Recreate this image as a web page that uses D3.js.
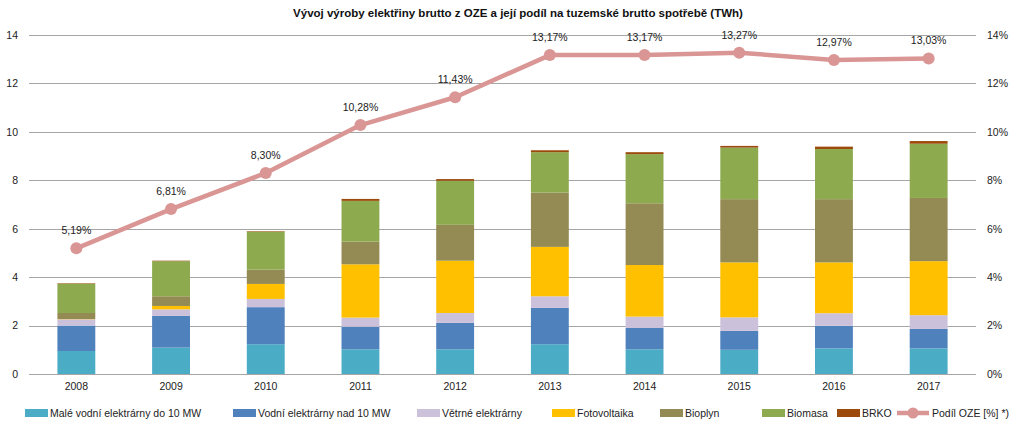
<!DOCTYPE html>
<html><head><meta charset="utf-8">
<script src="https://cdn.jsdelivr.net/npm/d3@7"></script>
<style>
body{margin:0;background:#fff;}
svg{display:block;font-family:"Liberation Sans Narrow","Liberation Sans",Arial,sans-serif;}
</style></head>
<body><svg id="c" width="1024" height="429"></svg>
<script>
const years = ["2008","2009","2010","2011","2012","2013","2014","2015","2016","2017"];
const seriesNames = ["Malé vodní elektrárny do 10 MW","Vodní elektrárny nad 10 MW","Větrné elektrárny","Fotovoltaika","Bioplyn","Biomasa","BRKO"];
const maleVodni   = [0.95,1.09,1.23,1.02,1.02,1.23,1.02,1.00,1.06,1.06];
const vodniNad10  = [1.05,1.31,1.53,0.93,1.09,1.50,0.88,0.78,0.93,0.80];
const vetrne      = [0.26,0.27,0.34,0.38,0.41,0.48,0.47,0.56,0.52,0.57];
const fotovoltaika= [0.01,0.14,0.62,2.20,2.16,2.04,2.13,2.27,2.10,2.23];
const bioplyn     = [0.25,0.40,0.59,0.94,1.48,2.24,2.55,2.61,2.61,2.61];
const biomasa     = [1.21,1.45,1.57,1.68,1.82,1.67,2.03,2.13,2.07,2.24];
const brko        = [0.02,0.02,0.02,0.08,0.07,0.08,0.08,0.07,0.10,0.11];
const podilOZE    = [5.19,6.81,8.30,10.28,11.43,13.17,13.17,13.27,12.97,13.03];
const leftTicks   = [0,2,4,6,8,10,12,14];
const rightTicks  = [0,2,4,6,8,10,12,14];
const colors = ["#4BACC6","#4F81BD","#CCC1DA","#FFC000","#948A54","#8DAA4F","#9C4A0C"];
const lineColor = "#D99694";
const FS = 10.5;

const svg = d3.select("#c");
const x0 = 29, x1 = 976, yTop = 35, yBot = 374;
const x = d3.scaleBand().domain(years).range([x0,x1]).paddingInner(0.6).paddingOuter(0.3);
const y = d3.scaleLinear().domain([0,14]).range([yBot,yTop]);
const y2 = d3.scaleLinear().domain([0,14]).range([yBot,yTop]);

// gridlines
svg.append("g").selectAll("line").data(leftTicks).join("line")
  .attr("x1",x0).attr("x2",x1)
  .attr("y1",d=>Math.round(y(d))+0.5).attr("y2",d=>Math.round(y(d))+0.5)
  .attr("stroke","#a6a6a6").attr("stroke-width",1.2);

// left axis labels
const axL = d3.axisLeft(y).tickValues(leftTicks).tickSize(0).tickPadding(11);
svg.append("g").attr("transform",`translate(${x0},0)`).call(axL)
  .call(g=>g.select(".domain").remove())
  .selectAll("text").attr("font-size",FS).attr("fill","#222").style("font-family","inherit");
// right axis labels
const axR = d3.axisRight(y2).tickValues(rightTicks).tickSize(0).tickPadding(11).tickFormat(d=>d+"%");
svg.append("g").attr("transform",`translate(${x1},0)`).call(axR)
  .call(g=>g.select(".domain").remove())
  .selectAll("text").attr("font-size",FS).attr("fill","#222").style("font-family","inherit");
// bottom axis
const axB = d3.axisBottom(x).tickSize(0).tickPadding(9);
svg.append("g").attr("transform",`translate(0,${yBot})`).call(axB)
  .call(g=>g.select(".domain").remove())
  .selectAll("text").attr("font-size",FS).attr("fill","#222").style("font-family","inherit");

// stacked bars
const data = years.map((yr,i)=>({year:yr,s0:maleVodni[i],s1:vodniNad10[i],s2:vetrne[i],s3:fotovoltaika[i],s4:bioplyn[i],s5:biomasa[i],s6:brko[i]}));
const keys = ["s0","s1","s2","s3","s4","s5","s6"];
const stack = d3.stack().keys(keys)(data);
svg.append("g").selectAll("g").data(stack).join("g").attr("fill",(d,i)=>colors[i])
  .selectAll("rect").data(d=>d).join("rect")
  .attr("x",d=>x(d.data.year)).attr("width",x.bandwidth())
  .attr("y",d=>y(d[1])).attr("height",d=>y(d[0])-y(d[1]));

// line
const cx = d=>x(d)+x.bandwidth()/2;
const line = d3.line().x((d,i)=>cx(years[i])).y(d=>y2(d));
svg.append("path").datum(podilOZE).attr("d",line).attr("fill","none")
  .attr("stroke",lineColor).attr("stroke-width",4.5).attr("stroke-linejoin","round");
svg.append("g").selectAll("circle").data(podilOZE).join("circle")
  .attr("cx",(d,i)=>cx(years[i])).attr("cy",d=>y2(d)).attr("r",6).attr("fill",lineColor);
svg.append("g").selectAll("text").data(podilOZE).join("text")
  .attr("x",(d,i)=>cx(years[i])).attr("y",d=>y2(d)-14)
  .attr("text-anchor","middle").attr("font-size",FS).attr("fill","#222")
  .text(d=>d3.format(".2f")(d).replace(".",",")+"%");

// title
svg.append("text").attr("x",518).attr("y",17).attr("text-anchor","middle")
  .attr("font-size",11.5).attr("font-weight","bold").attr("fill","#111")
  .text("Vývoj výroby elektřiny brutto z OZE a její podíl na tuzemské brutto spotřebě (TWh)");

// legend
const legX = [25,233,417,552,660,762,837];
const leg = svg.append("g");
seriesNames.forEach((n,i)=>{
  leg.append("rect").attr("x",legX[i]).attr("y",409).attr("width",23).attr("height",8).attr("fill",colors[i]);
  leg.append("text").attr("x",legX[i]+25).attr("y",417).attr("font-size",FS).attr("fill","#222").text(n);
});
leg.append("line").attr("x1",897).attr("x2",929).attr("y1",413).attr("y2",413).attr("stroke",lineColor).attr("stroke-width",4.5);
leg.append("circle").attr("cx",913).attr("cy",413).attr("r",5.5).attr("fill",lineColor);
leg.append("text").attr("x",932).attr("y",417).attr("font-size",FS).attr("fill","#222").text("Podíl OZE [%] *)");
</script></body></html>
